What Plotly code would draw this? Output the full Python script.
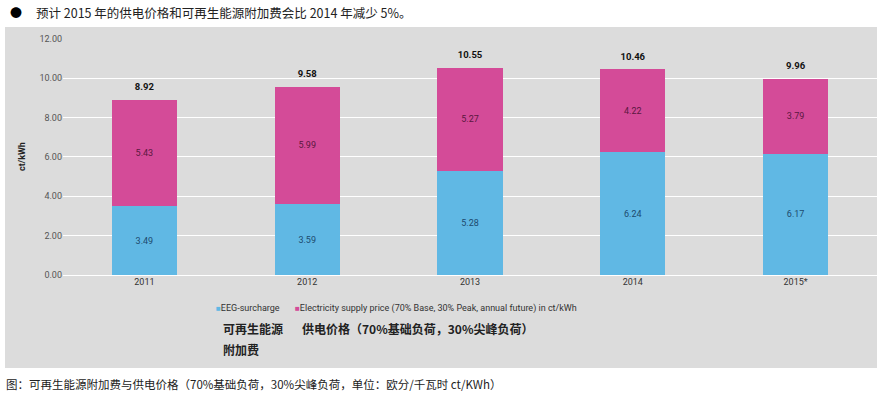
import plotly.graph_objects as go

years = ["2011", "2012", "2013", "2014", "2015*"]
eeg = [3.49, 3.59, 5.28, 6.24, 6.17]
supply = [5.43, 5.99, 5.27, 4.22, 3.79]
totals = [8.92, 9.58, 10.55, 10.46, 9.96]
y_ticks = [0, 2, 4, 6, 8, 10, 12]

BLUE = "#60B8E4"
PINK = "#D44B98"
PANEL = "#DCDCDC"

fig = go.Figure()
fig.add_trace(go.Bar(
    x=years, y=eeg, name="EEG-surcharge", marker=dict(color=BLUE, line=dict(width=0)),
    text=[f"{v:.2f}" for v in eeg], textposition="inside", insidetextanchor="middle",
    textfont=dict(family="Roboto", size=9, color="#1d4a6e"), width=0.4,
    showlegend=False, hoverinfo="skip"))
fig.add_trace(go.Bar(
    x=years, y=supply, name="Electricity supply price", marker=dict(color=PINK, line=dict(width=0)),
    text=[f"{v:.2f}" for v in supply], textposition="inside", insidetextanchor="middle",
    textfont=dict(family="Roboto", size=9, color="#5a1840"), width=0.4,
    showlegend=False, hoverinfo="skip"))
fig.add_trace(go.Scatter(
    x=years, y=totals, mode="markers+text", text=[f"{v:.2f}" for v in totals],
    marker=dict(size=10, opacity=0),
    textposition="top center", textfont=dict(family="Roboto", size=9.5, color="#111111"),
    texttemplate="<b>%{text}</b>", showlegend=False, hoverinfo="skip"))

W, H = 887, 398
L, R, T, B = 63, 10, 38, 123
pw, ph = W - L - R, H - T - B

def px(x):
    return (x - L) / pw

def py(y):
    return (H - B - y) / ph

fig.update_layout(
    width=W, height=H,
    margin=dict(l=L, r=R, t=T, b=B),
    paper_bgcolor="white", plot_bgcolor=PANEL,
    barmode="stack", bargap=0.6,
    font=dict(family="Roboto", size=9, color="#444444"),
    xaxis=dict(showgrid=False, showline=False, ticks="", tickfont=dict(size=9, color="#333333"),
               fixedrange=True),
    yaxis=dict(range=[0, 12.05], tickvals=y_ticks, ticktext=[f"{v:.2f}" for v in y_ticks],
               showgrid=True, gridcolor="white", gridwidth=1, zeroline=True, zerolinecolor="white",
               zerolinewidth=1,
               ticks="", ticklen=0, tickfont=dict(size=9, color="#555555"),
               title=dict(text="<b>ct/kWh</b>", font=dict(size=9, color="#222222"), standoff=12),
               fixedrange=True),
    shapes=[dict(type="rect", xref="paper", yref="paper", x0=px(5), x1=px(877), y0=py(368), y1=py(27),
                 fillcolor=PANEL, line=dict(width=0), layer="below")],
    annotations=[
        dict(xref="paper", yref="paper", x=px(8), y=py(13), xanchor="left", yanchor="middle",
             text="●", showarrow=False, font=dict(family="Noto Sans CJK SC", size=12, color="black")),
        dict(xref="paper", yref="paper", x=px(34), y=py(13), xanchor="left", yanchor="middle",
             text="预计 2015 年的供电价格和可再生能源附加费会比 2014 年减少 5%。", showarrow=False,
             font=dict(family="Noto Sans CJK SC", size=12.5, color="#222222")),
        dict(xref="paper", yref="paper", x=px(214), y=py(308), xanchor="left", yanchor="middle",
             text=f"<span style='color:{BLUE};font-size:8px'>■</span>EEG-surcharge", showarrow=False,
             font=dict(family="Roboto", size=9, color="#333333")),
        dict(xref="paper", yref="paper", x=px(293), y=py(308), xanchor="left", yanchor="middle",
             text=f"<span style='color:{PINK};font-size:8px'>■</span>Electricity supply price (70% Base, 30% Peak, annual future) in ct/kWh",
             showarrow=False, font=dict(family="Roboto", size=9, color="#333333")),
        dict(xref="paper", yref="paper", x=px(221), y=py(328), xanchor="left", yanchor="middle",
             text="<b>可再生能源</b>", showarrow=False,
             font=dict(family="Noto Sans CJK SC", size=12, color="#222222")),
        dict(xref="paper", yref="paper", x=px(221), y=py(349), xanchor="left", yanchor="middle",
             text="<b>附加费</b>", showarrow=False,
             font=dict(family="Noto Sans CJK SC", size=12, color="#222222")),
        dict(xref="paper", yref="paper", x=px(300), y=py(328), xanchor="left", yanchor="middle",
             text="<b>供电价格（70%基础负荷，30%尖峰负荷）</b>", showarrow=False,
             font=dict(family="Noto Sans CJK SC", size=12, color="#222222")),
        dict(xref="paper", yref="paper", x=px(4), y=py(384), xanchor="left", yanchor="middle",
             text="图：可再生能源附加费与供电价格（70%基础负荷，30%尖峰负荷，单位：欧分/千瓦时 ct/KWh）",
             showarrow=False, font=dict(family="Noto Sans CJK SC", size=11.5, color="#222222")),
    ],
)

fig.write_html("out.html", config={"displayModeBar": False},
               post_script="document.body.style.margin='0';document.body.style.overflow='hidden';")
